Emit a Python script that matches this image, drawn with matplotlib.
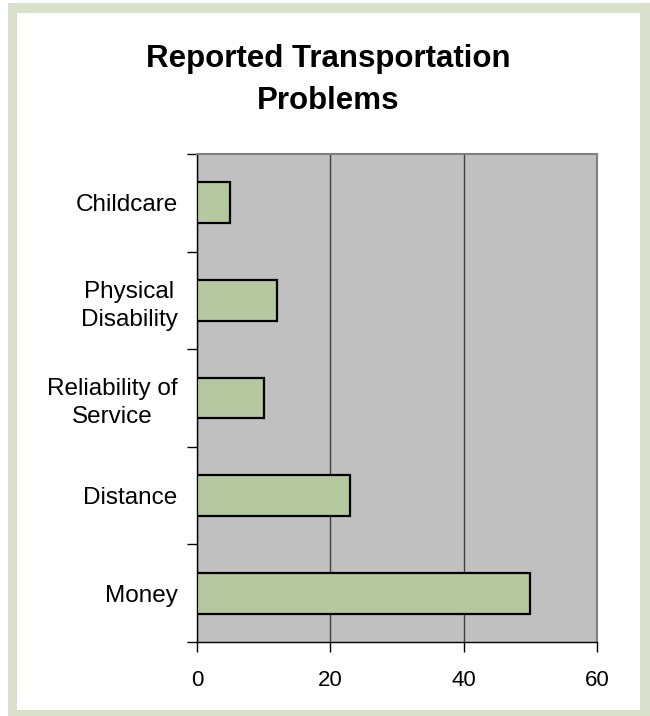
import matplotlib.pyplot as plt
from matplotlib.patches import Rectangle

categories = ["Money", "Distance", "Reliability of\nService", "Physical\nDisability", "Childcare"]
values = [50, 23, 10, 12, 5]
x_ticks = [0, 20, 40, 60]
title_lines = ["Reported Transportation", "Problems"]

plt.rcParams['font.family'] = ['Liberation Sans', 'DejaVu Sans']

fig = plt.figure(figsize=(6.5, 7.16), dpi=100)
W, H = 650, 716

# light green frame around the chart
fig.patches.append(Rectangle((8 / W, 0), 1 - 8 / W, 1 - 3 / H, transform=fig.transFigure,
                             facecolor="#d8e0cc", edgecolor="none", zorder=-2))
fig.patches.append(Rectangle((17 / W, 6 / H), (640 - 17) / W, (703 - 6) / H, transform=fig.transFigure,
                             facecolor="white", edgecolor="none", zorder=-1))

ax = fig.add_axes([197 / W, 1 - 642 / H, (597 - 197) / W, (642 - 154) / H])
ax.set_facecolor("#c0c0c0")

pos = list(range(len(categories)))
ax.barh(pos, values, height=0.42, color="#b5c8a0", edgecolor="black", linewidth=1.6, zorder=3)

ax.set_xlim(0, 60)
ax.set_ylim(-0.5, len(categories) - 0.5)
ax.set_xticks(x_ticks)
ax.set_xticklabels([str(v) for v in x_ticks], fontsize=16)
ax.tick_params(axis='x', length=7, width=1, color="black", pad=13)

ax.set_yticks([p - 0.5 for p in pos] + [len(categories) - 0.5])
ax.set_yticklabels([])
ax.set_yticks(pos, minor=True)
ax.set_yticklabels(categories, minor=True, fontsize=17.5, multialignment="center", linespacing=1.35)
ax.tick_params(axis='y', which='major', length=7, width=1, color="black")
ax.tick_params(axis='y', which='minor', length=0, pad=14)

ax.xaxis.grid(True, color="#404040", linewidth=1, zorder=1)
ax.set_axisbelow(True)

for s in ["left", "bottom"]:
    ax.spines[s].set_color("black")
    ax.spines[s].set_linewidth(1)
for s in ["top", "right"]:
    ax.spines[s].set_color("#808080")
    ax.spines[s].set_linewidth(1.5)

for i, line in enumerate(title_lines):
    fig.text(328 / W, 1 - (67 + 42 * i) / H, line, ha="center", va="baseline",
             fontsize=22.5, fontweight="bold")

fig.savefig("out.png", dpi=100)
